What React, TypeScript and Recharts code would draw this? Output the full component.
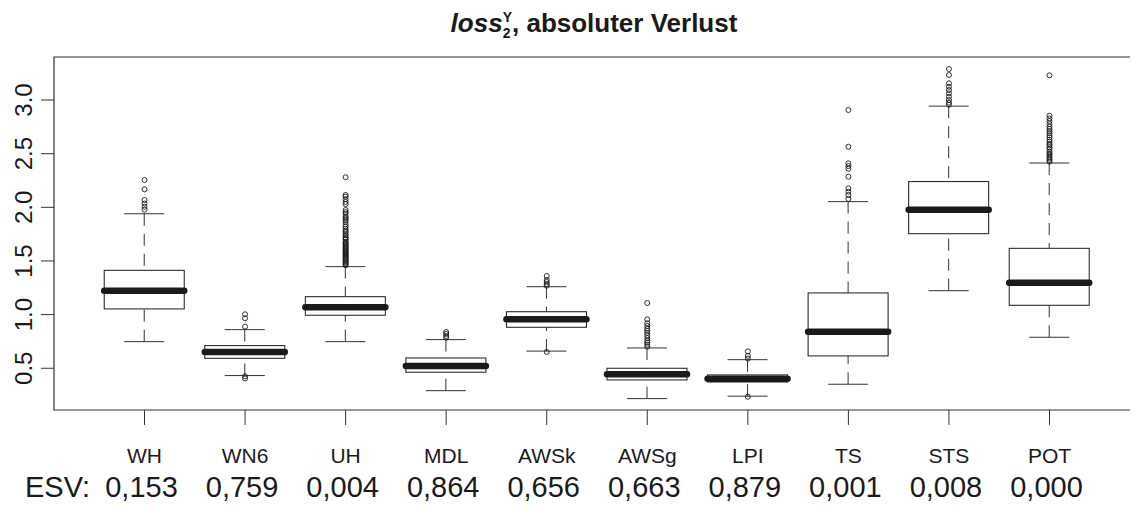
import React from 'react';
import { ComposedChart, Bar, Scatter, XAxis, YAxis, ReferenceArea } from 'recharts';

// ---- data ----
const categories = ['WH', 'WN6', 'UH', 'MDL', 'AWSk', 'AWSg', 'LPI', 'TS', 'STS', 'POT'];
const esvValues = ['0,153', '0,759', '0,004', '0,864', '0,656', '0,663', '0,879', '0,001', '0,008', '0,000'];

const whiskerLow = [0.748, 0.432, 0.748, 0.291, 0.66, 0.217, 0.24, 0.351, 1.223, 0.789];
const quart1 = [1.053, 0.593, 0.994, 0.463, 0.882, 0.391, 0.372, 0.615, 1.754, 1.087];
const medians = [1.223, 0.652, 1.068, 0.521, 0.956, 0.444, 0.403, 0.841, 1.978, 1.298];
const quart3 = [1.413, 0.711, 1.167, 0.596, 1.027, 0.5, 0.438, 1.202, 2.24, 1.618];
const whiskerHigh = [1.94, 0.86, 1.447, 0.767, 1.26, 0.689, 0.58, 2.053, 2.943, 2.413];

const outliersWH = [2.255, 2.168, 2.068, 2.035, 2.005, 1.978];
const outliersWN6 = [1.003, 0.966, 0.888, 0.425, 0.405];
const outliersUH = [
  2.28, 2.115, 2.1, 2.075, 2.05, 2.03, 1.975, 1.955, 1.94, 1.915, 1.9, 1.885, 1.865,
  1.84, 1.82, 1.8, 1.78, 1.77, 1.75, 1.74, 1.72, 1.71, 1.7, 1.68, 1.67, 1.66, 1.65,
  1.64, 1.63, 1.62, 1.61, 1.6, 1.59, 1.58, 1.57, 1.56, 1.55, 1.54, 1.53, 1.52, 1.51,
  1.5, 1.49, 1.48, 1.47, 1.46,
];
const outliersMDL = [0.838, 0.82, 0.8, 0.785];
const outliersAWSk = [1.36, 1.323, 1.304, 1.285, 1.27, 0.652];
const outliersAWSg = [1.108, 0.956, 0.919, 0.894, 0.869, 0.85, 0.83, 0.807, 0.782, 0.757, 0.739, 0.72, 0.701];
const outliersLPI = [0.658, 0.615, 0.59, 0.234];
const outliersTS = [2.907, 2.565, 2.41, 2.385, 2.36, 2.285, 2.177, 2.146, 2.115, 2.078];
const outliersSTS = [3.289, 3.233, 3.156, 3.124, 3.093, 3.062, 3.031, 3.0, 2.975, 2.956];
const outliersPOT = [
  3.23, 2.854, 2.829, 2.804, 2.776, 2.75, 2.73, 2.71, 2.69, 2.67, 2.652, 2.63, 2.611,
  2.59, 2.581, 2.56, 2.543, 2.52, 2.503, 2.49, 2.472, 2.455, 2.441, 2.425,
];

const yTicks = [0.5, 1.0, 1.5, 2.0, 2.5, 3.0];
const xTicks = [1, 2, 3, 4, 5, 6, 7, 8, 9, 10];
const X_DOMAIN: [number, number] = [0.1, 10.9];
const Y_DOMAIN: [number, number] = [0.111, 3.401];

// ---- derived tables ----
const boxData = categories.map((name, i) => ({
  pos: i + 1,
  name,
  lo: whiskerLow[i],
  q1: quart1[i],
  med: medians[i],
  q3: quart3[i],
  hi: whiskerHigh[i],
}));

const outlierGroups = [
  outliersWH, outliersWN6, outliersUH, outliersMDL, outliersAWSk,
  outliersAWSg, outliersLPI, outliersTS, outliersSTS, outliersPOT,
];
const outlierData: { pos: number; v: number }[] = [];
outlierGroups.forEach((arr, i) => arr.forEach((v) => outlierData.push({ pos: i + 1, v })));

const FONT = '"Liberation Sans", Arial, Helvetica, sans-serif';
const INK = '#1a1a1a';
const LINE = '#333333';

function BoxShape(props: any) {
  const { x, y, width, height, payload } = props;
  if (x == null || payload == null) return null;
  const top = Math.min(y, y + height);
  const bottom = Math.max(y, y + height);
  const { lo, q1, med, q3, hi } = payload;
  const yOf = (v: number) => top + ((bottom - top) * (hi - v)) / (hi - lo);
  const cx = x + width / 2;
  const cap = width / 4;
  const yq1 = yOf(q1);
  const yq3 = yOf(q3);
  const ym = yOf(med);
  return (
    <g>
      <line x1={cx} x2={cx} y1={top} y2={yq3} stroke={LINE} strokeWidth={1} strokeDasharray="12 8" />
      <line x1={cx} x2={cx} y1={bottom} y2={yq1} stroke={LINE} strokeWidth={1} strokeDasharray="12 8" />
      <line x1={cx - cap} x2={cx + cap} y1={top} y2={top} stroke={LINE} strokeWidth={1} />
      <line x1={cx - cap} x2={cx + cap} y1={bottom} y2={bottom} stroke={LINE} strokeWidth={1} />
      <rect x={x} y={yq3} width={width} height={yq1 - yq3} fill="none" stroke={INK} strokeWidth={1} />
      <line x1={x} x2={x + width} y1={ym} y2={ym} stroke={INK} strokeWidth={6.5} strokeLinecap="round" />
    </g>
  );
}

function OutlierShape(props: any) {
  const { cx, cy } = props;
  if (cx == null || cy == null) return null;
  return <circle cx={cx} cy={cy} r={2.5} fill="none" stroke={INK} strokeWidth={0.9} />;
}

function YTick(props: any) {
  const { y, payload } = props;
  const bx = 24;
  return (
    <text
      x={bx}
      y={y}
      transform={`rotate(-90 ${bx} ${y})`}
      textAnchor="middle"
      fontFamily={FONT}
      fontSize={24}
      fill={INK}
    >
      {Number(payload.value).toFixed(1)}
    </text>
  );
}

function XTick(props: any) {
  const { x, y, payload } = props;
  const idx = Math.round(payload.value) - 1;
  return (
    <g>
      <text x={x} y={y + 38} textAnchor="middle" fontFamily={FONT} fontSize={21} fill={INK}>
        {categories[idx]}
      </text>
      <text x={x - 3} y={y + 72} textAnchor="middle" fontFamily={FONT} fontSize={29} fill={INK}>
        {esvValues[idx]}
      </text>
      {idx === 0 ? (
        <text x={82} y={y + 72} textAnchor="end" fontFamily={FONT} fontSize={29} fill={INK}>
          ESV:
        </text>
      ) : null}
    </g>
  );
}

export default function App() {
  return (
    <div style={{ position: 'relative', width: 1130, height: 500, overflow: 'hidden', background: '#fff' }}>
      <svg
        width={1130}
        height={50}
        style={{ position: 'absolute', left: 0, top: 0 }}
      >
        <text x={586} y={23.5} textAnchor="middle" fontFamily={FONT} fontWeight="bold" fontSize={26} fill={INK}>
          <tspan fontStyle="italic">loss</tspan>
          <tspan fontSize={14} dy={6}>2</tspan>
          <tspan fontSize={14} dx={-7.8} dy={-16}>Y</tspan>
          <tspan dy={10}>, absoluter Verlust</tspan>
        </text>
      </svg>
      <ComposedChart
        width={1140}
        height={500}
        data={boxData}
        margin={{ top: 49, right: 8, bottom: 0, left: 0 }}
      >
        <XAxis
          type="number"
          dataKey="pos"
          domain={X_DOMAIN}
          ticks={xTicks}
          allowDataOverflow
          interval={0}
          height={98}
          tickSize={15}
          tickMargin={0}
          axisLine={false}
          tickLine={{ stroke: LINE, strokeWidth: 1 }}
          tick={<XTick />}
        />
        <YAxis
          type="number"
          domain={Y_DOMAIN}
          ticks={yTicks}
          allowDataOverflow
          width={46}
          tickSize={13}
          axisLine={false}
          tickLine={{ stroke: LINE, strokeWidth: 1 }}
          tick={<YTick />}
        />
        <ReferenceArea
          x1={X_DOMAIN[0]}
          x2={X_DOMAIN[1]}
          y1={Y_DOMAIN[0]}
          y2={Y_DOMAIN[1]}
          fill="none"
          fillOpacity={0}
          stroke={LINE}
          strokeWidth={1.2}
          ifOverflow="visible"
        />
        <Bar
          dataKey={(d: any) => [d.lo, d.hi]}
          barSize={80}
          shape={<BoxShape />}
          isAnimationActive={false}
        />
        <Scatter
          data={outlierData}
          dataKey="v"
          shape={<OutlierShape />}
          isAnimationActive={false}
        />
      </ComposedChart>
    </div>
  );
}
